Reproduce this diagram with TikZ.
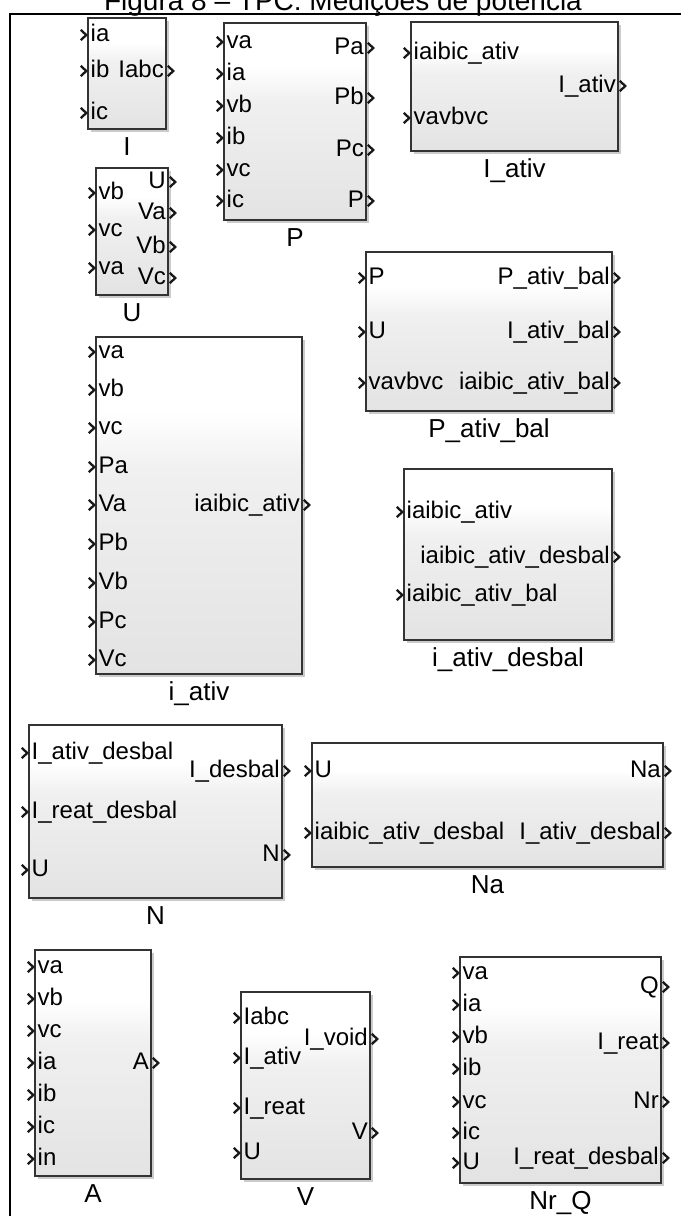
\documentclass[tikz,border=0pt]{standalone}
\usepackage{fontspec}
\setmainfont{Liberation Sans}
\usetikzlibrary{shadows}
\pgfdeclareverticalshading{blkshade}{100bp}{color(0bp)=(black!15); color(55bp)=(black!6); color(64bp)=(white); color(100bp)=(white)}
\newcommand\myportfont{\fontsize{24}{28}\selectfont}
\newcommand\mynamefont{\fontsize{26}{30}\selectfont}
\tikzset{
  blk/.style={draw=black!80, line width=1.6pt, shading=blkshade,
    drop shadow={shadow xshift=2.5pt, shadow yshift=-2.5pt, fill=black!45, opacity=0.45},
    anchor=north west, inner sep=0pt, outer sep=0pt},
  lin/.style={font=\myportfont, anchor=base west, inner sep=0pt, xshift=2.5pt},
  lout/.style={font=\myportfont, anchor=base east, inner sep=0pt, xshift=-2pt},
  nm/.style={font=\mynamefont, anchor=base, inner sep=0pt},
  chev/.style={line width=2.3pt, black!90, miter limit=10},
  frame/.style={line width=2pt, black}
}
% block: name, x1, y1, x2, y2, title
\newcommand\mkblock[6]{%
  \node[blk, minimum width={#4-#2}, minimum height={#5-#3}] (#1) at (#2,#3) {};
  \node[nm] (#1-name) at ({(#2+#4)/2},{#5+26}) {#6};}
% input port: x, y, text, node name
\newcommand\pin[4]{%
  \draw[chev] (#1-7.2,#2-5.2) -- (#1-1.8,#2) -- (#1-7.2,#2+5.2);
  \node[lin] (#4) at (#1,#2+6.2) {#3};}
% output port: x, y, text, node name
\newcommand\pout[4]{%
  \draw[chev] (#1+1.8,#2-5.2) -- (#1+7.2,#2) -- (#1+1.8,#2+5.2);
  \node[lout] (#4) at (#1,#2+6.2) {#3};}
\begin{document}
\begin{tikzpicture}[x=1pt,y=-1pt]
\useasboundingbox (0,0) rectangle (681,1216);
\node[font=\fontsize{28}{32}\selectfont, anchor=base, inner sep=0pt] (title) at (343,10) {Figura 8 – TPC: Medições de potência};
\draw[frame] (10,1216) -- (10,14) -- (681,14);

% I
\mkblock{I}{88}{18}{166}{129}{I}
\pin{88}{35}{ia}{I-ia}\pin{88}{71}{ib}{I-ib}\pin{88}{113}{ic}{I-ic}
\pout{166}{71}{Iabc}{I-Iabc}

% U
\mkblock{U}{96}{168}{168}{295}{U}
\pin{96}{193}{vb}{U-vb}\pin{96}{230}{vc}{U-vc}\pin{96}{268}{va}{U-va}
\pout{168}{182}{U}{U-U}\pout{168}{213}{Va}{U-Va}\pout{168}{247}{Vb}{U-Vb}\pout{168}{278}{Vc}{U-Vc}

% P
\mkblock{P}{224}{23}{366}{220}{P}
\pin{224}{42}{va}{P-va}\pin{224}{74}{ia}{P-ia}\pin{224}{106}{vb}{P-vb}
\pin{224}{138}{ib}{P-ib}\pin{224}{170}{vc}{P-vc}\pin{224}{201}{ic}{P-ic}
\pout{366}{48}{Pa}{P-Pa}\pout{366}{98}{Pb}{P-Pb}\pout{366}{150}{Pc}{P-Pc}\pout{366}{201}{P}{P-P}

% I_ativ
\mkblock{Iativ}{411}{22}{618}{151}{I\_ativ}
\pin{411}{53}{iaibic\_ativ}{Iativ-in1}\pin{411}{118}{vavbvc}{Iativ-in2}
\pout{618}{86}{I\_ativ}{Iativ-out1}

% P_ativ_bal
\mkblock{Pativbal}{366}{252}{612}{411}{P\_ativ\_bal}
\pin{366}{278}{P}{Pab-in1}\pin{366}{332}{U}{Pab-in2}\pin{366}{383}{vavbvc}{Pab-in3}
\pout{612}{278}{P\_ativ\_bal}{Pab-out1}\pout{612}{332}{I\_ativ\_bal}{Pab-out2}\pout{612}{383}{iaibic\_ativ\_bal}{Pab-out3}

% i_ativ_desbal
\mkblock{iativdesbal}{404}{469}{612}{640}{i\_ativ\_desbal}
\pin{404}{512}{iaibic\_ativ}{iad-in1}\pin{404}{595}{iaibic\_ativ\_bal}{iad-in2}
\pout{612}{557}{iaibic\_ativ\_desbal}{iad-out1}

% i_ativ
\mkblock{iativ}{96}{337}{302}{674}{i\_ativ}
\pin{96}{352}{va}{ia-va}\pin{96}{390}{vb}{ia-vb}\pin{96}{428}{vc}{ia-vc}
\pin{96}{467}{Pa}{ia-Pa}\pin{96}{505}{Va}{ia-Va}\pin{96}{544}{Pb}{ia-Pb}
\pin{96}{583}{Vb}{ia-Vb}\pin{96}{622}{Pc}{ia-Pc}\pin{96}{660}{Vc}{ia-Vc}
\pout{302}{505}{iaibic\_ativ}{ia-out1}

% N
\mkblock{N}{29}{725}{282}{898}{N}
\pin{29}{753}{I\_ativ\_desbal}{N-in1}\pin{29}{812}{I\_reat\_desbal}{N-in2}\pin{29}{870}{U}{N-in3}
\pout{282}{771}{I\_desbal}{N-out1}\pout{282}{855}{N}{N-out2}

% Na
\mkblock{Na}{312}{743}{663}{867}{Na}
\pin{312}{771}{U}{Na-in1}\pin{312}{833}{iaibic\_ativ\_desbal}{Na-in2}
\pout{663}{771}{Na}{Na-out1}\pout{663}{833}{I\_ativ\_desbal}{Na-out2}

% A
\mkblock{A}{35}{950}{151}{1176}{A}
\pin{35}{967}{va}{A-va}\pin{35}{999}{vb}{A-vb}\pin{35}{1031}{vc}{A-vc}
\pin{35}{1063}{ia}{A-ia}\pin{35}{1095}{ib}{A-ib}\pin{35}{1127}{ic}{A-ic}\pin{35}{1159}{in}{A-in}
\pout{151}{1063}{A}{A-A}

% V
\mkblock{V}{241}{992}{370}{1179}{V}
\pin{241}{1018}{Iabc}{V-in1}\pin{241}{1058}{I\_ativ}{V-in2}\pin{241}{1108}{I\_reat}{V-in3}\pin{241}{1153}{U}{V-in4}
\pout{370}{1039}{I\_void}{V-out1}\pout{370}{1133}{V}{V-out2}

% Nr_Q
\mkblock{NrQ}{460}{957}{661}{1183}{Nr\_Q}
\pin{460}{973}{va}{NQ-va}\pin{460}{1005}{ia}{NQ-ia}\pin{460}{1037}{vb}{NQ-vb}
\pin{460}{1069}{ib}{NQ-ib}\pin{460}{1102}{vc}{NQ-vc}\pin{460}{1133}{ic}{NQ-ic}\pin{460}{1163}{U}{NQ-U}
\pout{661}{987}{Q}{NQ-Q}\pout{661}{1043}{I\_reat}{NQ-Ireat}\pout{661}{1102}{Nr}{NQ-Nr}\pout{661}{1158}{I\_reat\_desbal}{NQ-Ird}
\end{tikzpicture}
\end{document}
